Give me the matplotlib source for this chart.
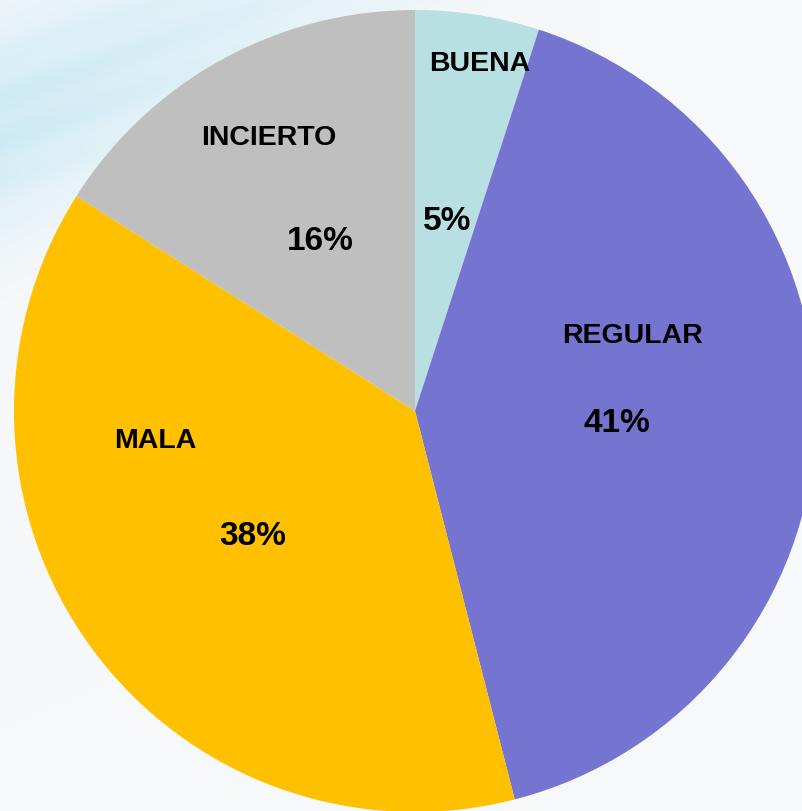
import numpy as np
import matplotlib
matplotlib.use("Agg")
import matplotlib.pyplot as plt

categories = ["BUENA", "REGULAR", "MALA", "INCIERTO"]
values = [5, 41, 38, 16]
pct_labels = ["5%", "41%", "38%", "16%"]
colors = ["#B8DFE2", "#7575D1", "#FFC000", "#BFBFBF"]

W, H = 802, 812
CX, CY, R = 415, 412, 401  # pixel geometry of the pie

fig = plt.figure(figsize=(W / 100, H / 100), dpi=100)
fig.patch.set_facecolor("#F7F8FA")

# background with soft blue swoosh in the top-left
bg = fig.add_axes([0, 0, 1, 1], zorder=0)
yy, xx = np.mgrid[0:H, 0:W]
d = (yy * 1.0 + xx * 0.45) / 420.0
band = np.exp(-((d - 0.3) ** 2) / 0.06) * np.clip(1 - xx / 600.0, 0, 1)
stripes = 0.92 + 0.08 * np.sin((yy + xx * 0.35) / 7.0)
t = np.clip(0.7 * band * stripes, 0, 1)[..., None]
base = np.array([247, 248, 250]) / 255.0
blue = np.array([185, 228, 242]) / 255.0
img = base * (1 - t) + blue * t
bg.imshow(img, extent=(0, W, H, 0), aspect="auto")
bg.set_xlim(0, W)
bg.set_ylim(H, 0)
bg.axis("off")

ax = fig.add_axes([0, 0, 1, 1], zorder=1)
ax.patch.set_alpha(0)
ax.pie(values, colors=colors, startangle=90, counterclock=False,
       radius=1.0, wedgeprops=dict(linewidth=0))
ax.set_xlim(-CX / R, (W - CX) / R)
ax.set_ylim(-(H - CY) / R, CY / R)
ax.set_aspect("auto")
ax.axis("off")

def px(x, y):
    return (x - CX) / R, (CY - y) / R

# label positions (pixel centers x, baseline y) as placed in the reference
name_pos = [(480, 71), (632, 343), (155, 448), (269, 145)]
pct_pos = [(447, 230), (617, 432), (253, 545), (320, 250)]

for name, pct, npos, ppos in zip(categories, pct_labels, name_pos, pct_pos):
    x, y = px(*npos)
    ax.text(x, y, name, ha="center", va="baseline", fontsize=20.5,
            fontweight="bold", family="Liberation Sans", color="black")
    x, y = px(*ppos)
    ax.text(x, y, pct, ha="center", va="baseline", fontsize=24,
            fontweight="bold", family="Liberation Sans", color="black")

fig.savefig("out.png", dpi=100, facecolor=fig.get_facecolor())
